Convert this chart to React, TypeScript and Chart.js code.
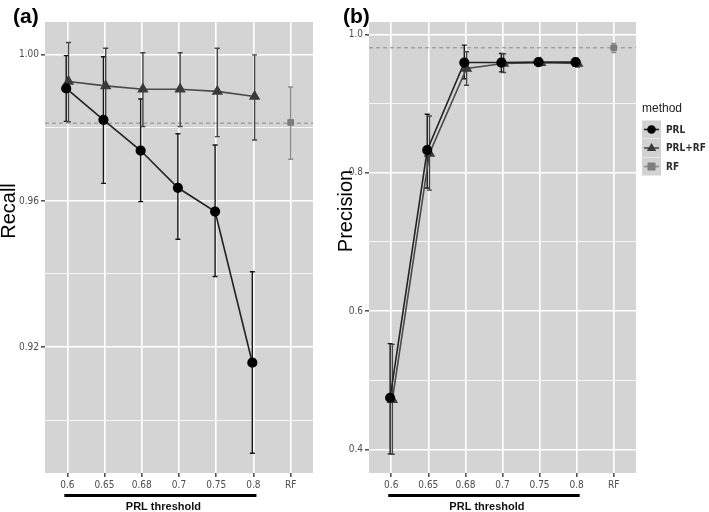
import React, { useEffect, useRef } from 'react';
import { Chart, registerables } from 'chart.js';

Chart.register(...registerables);

// ---------- data ----------
const categories = ['0.6', '0.65', '0.68', '0.7', '0.75', '0.8', 'RF'];
const legendLabels = ['PRL', 'PRL+RF', 'RF'];

// Panel (a) Recall
const recallPRL = [0.9908, 0.9822, 0.9738, 0.9636, 0.9571, 0.9157];
const recallPRLLow = [0.9818, 0.9648, 0.9598, 0.9495, 0.9393, 0.8909];
const recallPRLHigh = [0.9998, 0.9995, 0.9879, 0.9784, 0.9753, 0.9406];
const recallPRLRF = [0.9927, 0.9915, 0.9906, 0.9906, 0.99, 0.9886];
const recallPRLRFLow = [0.9817, 0.9812, 0.9804, 0.9804, 0.9776, 0.9767];
const recallPRLRFHigh = [1.0034, 1.0018, 1.0006, 1.0006, 1.0018, 1.0];
const recallRF = [0.9815];
const recallRFLow = [0.9714];
const recallRFHigh = [0.9912];
const recallRef = 0.9813;
const recallTicks = [0.9, 0.92, 0.94, 0.96, 0.98, 1.0];

// Panel (b) Precision
const precPRL = [0.4748, 0.8328, 0.9594, 0.9594, 0.96, 0.96];
const precPRLLow = [0.3936, 0.778, 0.936, 0.9459, 0.955, 0.955];
const precPRLHigh = [0.553, 0.8846, 0.9845, 0.9725, 0.965, 0.965];
const precPRLRF = [0.472, 0.828, 0.9507, 0.958, 0.959, 0.958];
const precPRLRFLow = [0.393, 0.775, 0.9265, 0.945, 0.955, 0.953];
const precPRLRFHigh = [0.552, 0.882, 0.975, 0.972, 0.963, 0.962];
const precRF = [0.9807];
const precRFLow = [0.974];
const precRFHigh = [0.987];
const precRef = 0.9807;
const precTicks = [0.4, 0.5, 0.6, 0.7, 0.8, 0.9, 1.0];

// ---------- styles ----------
const NARROW = '"Liberation Sans Narrow", "DejaVu Sans Condensed", "Liberation Sans", sans-serif';
const SANS = '"Liberation Sans", Arial, sans-serif';
const PANEL_BG = '#d4d4d4';

type Spec = {
  tag: string;
  title: string;
  width: number;
  areaLeft: number;
  areaRight: number;
  yMin: number;
  yMax: number;
  ticks: number[];
  isMajor: (v: number) => boolean;
  fmt: (v: number) => string;
  prl: number[]; prlLow: number[]; prlHigh: number[];
  prlrf: number[]; prlrfLow: number[]; prlrfHigh: number[];
  rf: number[]; rfLow: number[]; rfHigh: number[];
  ref: number;
  titleY: number;
  legend: boolean;
};

const AREA_TOP = 22;
const AREA_BOTTOM = 473;
const H = 512;

function drawMarker(ctx: CanvasRenderingContext2D, style: string, x: number, y: number, r: number, color: string) {
  ctx.fillStyle = color;
  ctx.beginPath();
  if (style === 'circle') {
    ctx.arc(x, y, r, 0, Math.PI * 2);
  } else if (style === 'triangle') {
    ctx.moveTo(x, y - r);
    ctx.lineTo(x + r * 0.95, y + r * 0.6);
    ctx.lineTo(x - r * 0.95, y + r * 0.6);
    ctx.closePath();
  } else {
    ctx.rect(x - r, y - r, 2 * r, 2 * r);
  }
  ctx.fill();
}

function makePanel(canvas: HTMLCanvasElement, s: Spec) {
  const dodge = 0.03;
  const datasets: any[] = [
    {
      label: legendLabels[0],
      data: s.prl.map((y, i) => ({ x: i - dodge, y })),
      low: s.prlLow, high: s.prlHigh, errColor: '#161616',
      borderColor: '#222', borderWidth: 1.6,
      pointBackgroundColor: '#000', pointBorderColor: '#000',
      pointStyle: 'circle', pointRadius: 4.3, showLine: true,
    },
    {
      label: legendLabels[1],
      data: s.prlrf.map((y, i) => ({ x: i + dodge, y })),
      low: s.prlrfLow, high: s.prlrfHigh, errColor: '#444',
      borderColor: '#4a4a4a', borderWidth: 1.6,
      pointBackgroundColor: '#3a3a3a', pointBorderColor: '#3a3a3a',
      pointStyle: 'triangle', pointRadius: 5, showLine: true,
    },
    {
      label: legendLabels[2],
      data: s.rf.map((y) => ({ x: 6, y })),
      low: s.rfLow, high: s.rfHigh, errColor: '#8a8a8a',
      borderColor: '#7d7d7d',
      pointBackgroundColor: '#7d7d7d', pointBorderColor: '#7d7d7d',
      pointStyle: 'rect', pointRadius: 4, showLine: false,
    },
  ];

  const deco = {
    id: 'deco_' + s.tag,
    beforeDraw(chart: any) {
      const { ctx, chartArea: a } = chart;
      ctx.save();
      ctx.fillStyle = '#ffffff';
      ctx.fillRect(0, 0, chart.width, chart.height);
      ctx.fillStyle = PANEL_BG;
      ctx.fillRect(a.left, a.top, a.right - a.left, a.bottom - a.top);
      ctx.restore();
    },
    beforeDatasetsDraw(chart: any) {
      const { ctx, chartArea: a, scales } = chart;
      const y = scales.y;
      ctx.save();
      ctx.beginPath();
      ctx.rect(a.left, a.top, a.right - a.left, a.bottom - a.top);
      ctx.clip();
      // reference dashed line
      const yr = y.getPixelForValue(s.ref);
      ctx.setLineDash([4, 3]);
      ctx.strokeStyle = '#8a8a8a';
      ctx.lineWidth = 1;
      ctx.beginPath();
      ctx.moveTo(a.left, yr);
      ctx.lineTo(a.right, yr);
      ctx.stroke();
      ctx.setLineDash([]);
      // error bars
      chart.data.datasets.forEach((d: any, di: number) => {
        const meta = chart.getDatasetMeta(di);
        meta.data.forEach((el: any, i: number) => {
          const yl = y.getPixelForValue(d.low[i]);
          const yh = y.getPixelForValue(d.high[i]);
          ctx.strokeStyle = d.errColor;
          ctx.lineWidth = 1.4;
          ctx.beginPath();
          ctx.moveTo(el.x, yl);
          ctx.lineTo(el.x, yh);
          ctx.moveTo(el.x - 2.5, yl);
          ctx.lineTo(el.x + 2.5, yl);
          ctx.moveTo(el.x - 2.5, yh);
          ctx.lineTo(el.x + 2.5, yh);
          ctx.stroke();
        });
      });
      ctx.restore();
    },
    afterDraw(chart: any) {
      const { ctx, scales } = chart;
      const x = scales.x;
      ctx.save();
      // panel tag
      ctx.fillStyle = '#000';
      ctx.font = 'bold 21px ' + SANS;
      ctx.textAlign = 'left';
      ctx.textBaseline = 'middle';
      ctx.fillText(s.tag, s.width === 340 ? 13 : 8, 17);
      // y title
      ctx.save();
      ctx.translate(s.titleY, 211);
      ctx.rotate(-Math.PI / 2);
      ctx.font = '20px ' + SANS;
      ctx.textAlign = 'center';
      ctx.textBaseline = 'alphabetic';
      ctx.fillText(s.title, 0, 0);
      ctx.restore();
      // underline + x title
      const x0 = x.getPixelForValue(0) - 3;
      const x1 = x.getPixelForValue(5) + 3;
      ctx.strokeStyle = '#000';
      ctx.lineWidth = 3;
      ctx.beginPath();
      ctx.moveTo(x0, 495.5);
      ctx.lineTo(x1, 495.5);
      ctx.stroke();
      ctx.font = 'bold 11px ' + SANS;
      ctx.textAlign = 'center';
      ctx.textBaseline = 'middle';
      ctx.fillStyle = '#111';
      ctx.fillText('PRL threshold', (x0 + x1) / 2 + 3, 507);
      // legend
      if (s.legend) {
        const lx = 642 - 335;
        ctx.textAlign = 'left';
        ctx.font = '12px ' + SANS;
        ctx.fillStyle = '#222';
        ctx.fillText('method', lx, 109);
        const rows = [129.5, 148, 166.5];
        const styles = ['circle', 'triangle', 'rect'];
        const colors = ['#000', '#3a3a3a', '#7d7d7d'];
        const lineCols = ['#222', '#4a4a4a', '#8a8a8a'];
        const radii = [4.3, 5, 4];
        rows.forEach((ry, i) => {
          ctx.fillStyle = '#d2d2d2';
          ctx.fillRect(lx, ry - 9, 19, 18);
          ctx.strokeStyle = lineCols[i];
          ctx.lineWidth = 1.6;
          ctx.beginPath();
          ctx.moveTo(lx + 2, ry);
          ctx.lineTo(lx + 17, ry);
          ctx.stroke();
          drawMarker(ctx, styles[i], lx + 9.5, ry, radii[i], colors[i]);
          ctx.fillStyle = '#2a2a2a';
          ctx.font = 'bold 10px ' + NARROW;
          ctx.fillText(legendLabels[i], lx + 24, ry + 0.5);
        });
      }
      ctx.restore();
    },
  };

  return new Chart(canvas, {
    type: 'scatter',
    data: { datasets },
    plugins: [deco],
    options: {
      responsive: false,
      animation: false,
      events: [],
      layout: {
        padding: { top: AREA_TOP, right: s.width - s.areaRight, left: 0, bottom: 0 },
      },
      plugins: { legend: { display: false }, tooltip: { enabled: false } },
      scales: {
        x: {
          type: 'linear',
          min: -0.6,
          max: 6.6,
          afterBuildTicks: (sc: any) => {
            sc.ticks = categories.map((_, i) => ({ value: i }));
          },
          afterFit: (sc: any) => {
            sc.height = H - AREA_BOTTOM;
          },
          border: { display: false },
          grid: {
            color: '#ffffff',
            lineWidth: 1.6,
            tickLength: 4,
            tickColor: '#555',
          },
          ticks: {
            autoSkip: false,
            maxRotation: 0,
            padding: 2,
            color: '#4d4d4d',
            font: { family: NARROW, size: 10 },
            callback: (v: any) => categories[Math.round(v)] ?? '',
          },
        },
        y: {
          type: 'linear',
          min: s.yMin,
          max: s.yMax,
          afterBuildTicks: (sc: any) => {
            sc.ticks = s.ticks.map((v) => ({ value: v }));
          },
          afterFit: (sc: any) => {
            sc.width = s.areaLeft;
          },
          border: { display: false },
          grid: {
            color: '#ffffff',
            lineWidth: (c: any) => (c.tick && s.isMajor(c.tick.value) ? 1.6 : 0.8),
            tickLength: 4,
            tickColor: (c: any) => (c.tick && s.isMajor(c.tick.value) ? '#555' : 'rgba(0,0,0,0)'),
          },
          ticks: {
            autoSkip: false,
            padding: 2,
            color: '#4d4d4d',
            font: { family: NARROW, size: 10 },
            callback: (v: any) => (s.isMajor(v) ? s.fmt(v) : ''),
          },
        },
      },
    } as any,
  });
}

const specA: Spec = {
  tag: '(a)', title: 'Recall', width: 340, areaLeft: 45, areaRight: 313,
  yMin: 0.8855, yMax: 1.009, ticks: recallTicks,
  isMajor: (v) => Math.round(v * 100) % 4 === 0, fmt: (v) => v.toFixed(2),
  prl: recallPRL, prlLow: recallPRLLow, prlHigh: recallPRLHigh,
  prlrf: recallPRLRF, prlrfLow: recallPRLRFLow, prlrfHigh: recallPRLRFHigh,
  rf: recallRF, rfLow: recallRFLow, rfHigh: recallRFHigh,
  ref: recallRef, titleY: 15, legend: false,
};

const specB: Spec = {
  tag: '(b)', title: 'Precision', width: 374, areaLeft: 34, areaRight: 301,
  yMin: 0.366, yMax: 1.018, ticks: precTicks,
  isMajor: (v) => Math.round(v * 10) % 2 === 0, fmt: (v) => v.toFixed(1),
  prl: precPRL, prlLow: precPRLLow, prlHigh: precPRLHigh,
  prlrf: precPRLRF, prlrfLow: precPRLRFLow, prlrfHigh: precPRLRFHigh,
  rf: precRF, rfLow: precRFLow, rfHigh: precRFHigh,
  ref: precRef, titleY: 17, legend: true,
};

export default function App() {
  const refA = useRef<HTMLCanvasElement>(null);
  const refB = useRef<HTMLCanvasElement>(null);
  useEffect(() => {
    const a = makePanel(refA.current!, specA);
    const b = makePanel(refB.current!, specB);
    return () => {
      a.destroy();
      b.destroy();
    };
  }, []);
  return (
    <div style={{ position: 'absolute', left: 0, top: 0, width: 709, height: 512, background: '#fff', overflow: 'hidden' }}>
      <canvas ref={refA} width={340} height={512} style={{ position: 'absolute', left: 0, top: 0, width: 340, height: 512 }} />
      <canvas ref={refB} width={374} height={512} style={{ position: 'absolute', left: 335, top: 0, width: 374, height: 512 }} />
    </div>
  );
}
